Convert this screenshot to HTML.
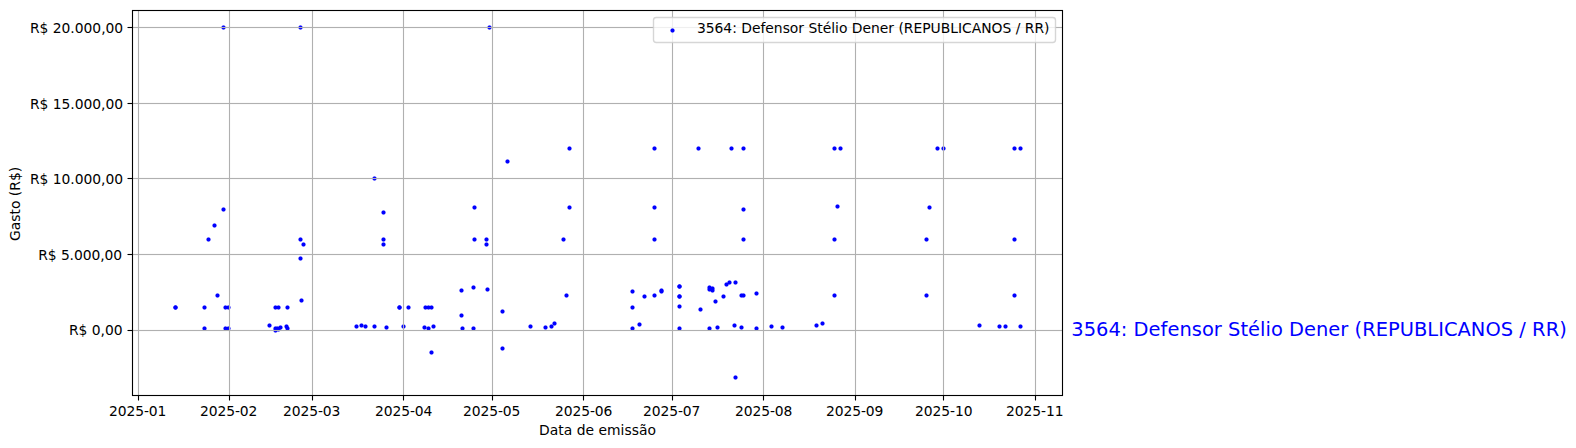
<!DOCTYPE html>
<html lang="pt-BR"><head><meta charset="utf-8"><title>Gastos</title>
<style>html,body{margin:0;padding:0;background:#fff}svg{display:block}</style></head>
<body>
<svg width="1576" height="448" viewBox="0 0 1576 448">
<rect width="1576" height="448" fill="#fff"/>
<g fill="#0000ff">
<rect x="276" y="328" width="5" height="3" fill-opacity=".306"/><rect x="277" y="327" width="3" height="5" fill-opacity=".306"/><rect x="276" y="329" width="5" height="1" fill-opacity=".366"/><rect x="278" y="327" width="1" height="5" fill-opacity=".366"/><rect x="277" y="328" width="3" height="3"/>
<rect x="221" y="26" width="5" height="3" fill-opacity=".306"/><rect x="222" y="25" width="3" height="5" fill-opacity=".306"/><rect x="221" y="27" width="5" height="1" fill-opacity=".366"/><rect x="223" y="25" width="1" height="5" fill-opacity=".366"/><rect x="222" y="26" width="3" height="3"/>
<rect x="298" y="26" width="5" height="3" fill-opacity=".306"/><rect x="299" y="25" width="3" height="5" fill-opacity=".306"/><rect x="298" y="27" width="5" height="1" fill-opacity=".366"/><rect x="300" y="25" width="1" height="5" fill-opacity=".366"/><rect x="299" y="26" width="3" height="3"/>
<rect x="487" y="26" width="5" height="3" fill-opacity=".306"/><rect x="488" y="25" width="3" height="5" fill-opacity=".306"/><rect x="487" y="27" width="5" height="1" fill-opacity=".366"/><rect x="489" y="25" width="1" height="5" fill-opacity=".366"/><rect x="488" y="26" width="3" height="3"/>
<rect x="567" y="147" width="5" height="3" fill-opacity=".306"/><rect x="568" y="146" width="3" height="5" fill-opacity=".306"/><rect x="567" y="148" width="5" height="1" fill-opacity=".366"/><rect x="569" y="146" width="1" height="5" fill-opacity=".366"/><rect x="568" y="147" width="3" height="3"/>
<rect x="652" y="147" width="5" height="3" fill-opacity=".306"/><rect x="653" y="146" width="3" height="5" fill-opacity=".306"/><rect x="652" y="148" width="5" height="1" fill-opacity=".366"/><rect x="654" y="146" width="1" height="5" fill-opacity=".366"/><rect x="653" y="147" width="3" height="3"/>
<rect x="696" y="147" width="5" height="3" fill-opacity=".306"/><rect x="697" y="146" width="3" height="5" fill-opacity=".306"/><rect x="696" y="148" width="5" height="1" fill-opacity=".366"/><rect x="698" y="146" width="1" height="5" fill-opacity=".366"/><rect x="697" y="147" width="3" height="3"/>
<rect x="729" y="147" width="5" height="3" fill-opacity=".306"/><rect x="730" y="146" width="3" height="5" fill-opacity=".306"/><rect x="729" y="148" width="5" height="1" fill-opacity=".366"/><rect x="731" y="146" width="1" height="5" fill-opacity=".366"/><rect x="730" y="147" width="3" height="3"/>
<rect x="741" y="147" width="5" height="3" fill-opacity=".306"/><rect x="742" y="146" width="3" height="5" fill-opacity=".306"/><rect x="741" y="148" width="5" height="1" fill-opacity=".366"/><rect x="743" y="146" width="1" height="5" fill-opacity=".366"/><rect x="742" y="147" width="3" height="3"/>
<rect x="832" y="147" width="5" height="3" fill-opacity=".306"/><rect x="833" y="146" width="3" height="5" fill-opacity=".306"/><rect x="832" y="148" width="5" height="1" fill-opacity=".366"/><rect x="834" y="146" width="1" height="5" fill-opacity=".366"/><rect x="833" y="147" width="3" height="3"/>
<rect x="838" y="147" width="5" height="3" fill-opacity=".306"/><rect x="839" y="146" width="3" height="5" fill-opacity=".306"/><rect x="838" y="148" width="5" height="1" fill-opacity=".366"/><rect x="840" y="146" width="1" height="5" fill-opacity=".366"/><rect x="839" y="147" width="3" height="3"/>
<rect x="935" y="147" width="5" height="3" fill-opacity=".306"/><rect x="936" y="146" width="3" height="5" fill-opacity=".306"/><rect x="935" y="148" width="5" height="1" fill-opacity=".366"/><rect x="937" y="146" width="1" height="5" fill-opacity=".366"/><rect x="936" y="147" width="3" height="3"/>
<rect x="941" y="147" width="5" height="3" fill-opacity=".306"/><rect x="942" y="146" width="3" height="5" fill-opacity=".306"/><rect x="941" y="148" width="5" height="1" fill-opacity=".366"/><rect x="943" y="146" width="1" height="5" fill-opacity=".366"/><rect x="942" y="147" width="3" height="3"/>
<rect x="1012" y="147" width="5" height="3" fill-opacity=".306"/><rect x="1013" y="146" width="3" height="5" fill-opacity=".306"/><rect x="1012" y="148" width="5" height="1" fill-opacity=".366"/><rect x="1014" y="146" width="1" height="5" fill-opacity=".366"/><rect x="1013" y="147" width="3" height="3"/>
<rect x="1018" y="147" width="5" height="3" fill-opacity=".306"/><rect x="1019" y="146" width="3" height="5" fill-opacity=".306"/><rect x="1018" y="148" width="5" height="1" fill-opacity=".366"/><rect x="1020" y="146" width="1" height="5" fill-opacity=".366"/><rect x="1019" y="147" width="3" height="3"/>
<rect x="505" y="160" width="5" height="3" fill-opacity=".306"/><rect x="506" y="159" width="3" height="5" fill-opacity=".306"/><rect x="505" y="161" width="5" height="1" fill-opacity=".366"/><rect x="507" y="159" width="1" height="5" fill-opacity=".366"/><rect x="506" y="160" width="3" height="3"/>
<rect x="372" y="177" width="5" height="3" fill-opacity=".306"/><rect x="373" y="176" width="3" height="5" fill-opacity=".306"/><rect x="372" y="178" width="5" height="1" fill-opacity=".366"/><rect x="374" y="176" width="1" height="5" fill-opacity=".366"/><rect x="373" y="177" width="3" height="3"/>
<rect x="472" y="206" width="5" height="3" fill-opacity=".306"/><rect x="473" y="205" width="3" height="5" fill-opacity=".306"/><rect x="472" y="207" width="5" height="1" fill-opacity=".366"/><rect x="474" y="205" width="1" height="5" fill-opacity=".366"/><rect x="473" y="206" width="3" height="3"/>
<rect x="567" y="206" width="5" height="3" fill-opacity=".306"/><rect x="568" y="205" width="3" height="5" fill-opacity=".306"/><rect x="567" y="207" width="5" height="1" fill-opacity=".366"/><rect x="569" y="205" width="1" height="5" fill-opacity=".366"/><rect x="568" y="206" width="3" height="3"/>
<rect x="652" y="206" width="5" height="3" fill-opacity=".306"/><rect x="653" y="205" width="3" height="5" fill-opacity=".306"/><rect x="652" y="207" width="5" height="1" fill-opacity=".366"/><rect x="654" y="205" width="1" height="5" fill-opacity=".366"/><rect x="653" y="206" width="3" height="3"/>
<rect x="927" y="206" width="5" height="3" fill-opacity=".306"/><rect x="928" y="205" width="3" height="5" fill-opacity=".306"/><rect x="927" y="207" width="5" height="1" fill-opacity=".366"/><rect x="929" y="205" width="1" height="5" fill-opacity=".366"/><rect x="928" y="206" width="3" height="3"/>
<rect x="221" y="208" width="5" height="3" fill-opacity=".306"/><rect x="222" y="207" width="3" height="5" fill-opacity=".306"/><rect x="221" y="209" width="5" height="1" fill-opacity=".366"/><rect x="223" y="207" width="1" height="5" fill-opacity=".366"/><rect x="222" y="208" width="3" height="3"/>
<rect x="741" y="208" width="5" height="3" fill-opacity=".306"/><rect x="742" y="207" width="3" height="5" fill-opacity=".306"/><rect x="741" y="209" width="5" height="1" fill-opacity=".366"/><rect x="743" y="207" width="1" height="5" fill-opacity=".366"/><rect x="742" y="208" width="3" height="3"/>
<rect x="835" y="205" width="5" height="3" fill-opacity=".306"/><rect x="836" y="204" width="3" height="5" fill-opacity=".306"/><rect x="835" y="206" width="5" height="1" fill-opacity=".366"/><rect x="837" y="204" width="1" height="5" fill-opacity=".366"/><rect x="836" y="205" width="3" height="3"/>
<rect x="381" y="211" width="5" height="3" fill-opacity=".306"/><rect x="382" y="210" width="3" height="5" fill-opacity=".306"/><rect x="381" y="212" width="5" height="1" fill-opacity=".366"/><rect x="383" y="210" width="1" height="5" fill-opacity=".366"/><rect x="382" y="211" width="3" height="3"/>
<rect x="212" y="224" width="5" height="3" fill-opacity=".306"/><rect x="213" y="223" width="3" height="5" fill-opacity=".306"/><rect x="212" y="225" width="5" height="1" fill-opacity=".366"/><rect x="214" y="223" width="1" height="5" fill-opacity=".366"/><rect x="213" y="224" width="3" height="3"/>
<rect x="206" y="238" width="5" height="3" fill-opacity=".306"/><rect x="207" y="237" width="3" height="5" fill-opacity=".306"/><rect x="206" y="239" width="5" height="1" fill-opacity=".366"/><rect x="208" y="237" width="1" height="5" fill-opacity=".366"/><rect x="207" y="238" width="3" height="3"/>
<rect x="298" y="238" width="5" height="3" fill-opacity=".306"/><rect x="299" y="237" width="3" height="5" fill-opacity=".306"/><rect x="298" y="239" width="5" height="1" fill-opacity=".366"/><rect x="300" y="237" width="1" height="5" fill-opacity=".366"/><rect x="299" y="238" width="3" height="3"/>
<rect x="381" y="238" width="5" height="3" fill-opacity=".306"/><rect x="382" y="237" width="3" height="5" fill-opacity=".306"/><rect x="381" y="239" width="5" height="1" fill-opacity=".366"/><rect x="383" y="237" width="1" height="5" fill-opacity=".366"/><rect x="382" y="238" width="3" height="3"/>
<rect x="472" y="238" width="5" height="3" fill-opacity=".306"/><rect x="473" y="237" width="3" height="5" fill-opacity=".306"/><rect x="472" y="239" width="5" height="1" fill-opacity=".366"/><rect x="474" y="237" width="1" height="5" fill-opacity=".366"/><rect x="473" y="238" width="3" height="3"/>
<rect x="484" y="238" width="5" height="3" fill-opacity=".306"/><rect x="485" y="237" width="3" height="5" fill-opacity=".306"/><rect x="484" y="239" width="5" height="1" fill-opacity=".366"/><rect x="486" y="237" width="1" height="5" fill-opacity=".366"/><rect x="485" y="238" width="3" height="3"/>
<rect x="561" y="238" width="5" height="3" fill-opacity=".306"/><rect x="562" y="237" width="3" height="5" fill-opacity=".306"/><rect x="561" y="239" width="5" height="1" fill-opacity=".366"/><rect x="563" y="237" width="1" height="5" fill-opacity=".366"/><rect x="562" y="238" width="3" height="3"/>
<rect x="652" y="238" width="5" height="3" fill-opacity=".306"/><rect x="653" y="237" width="3" height="5" fill-opacity=".306"/><rect x="652" y="239" width="5" height="1" fill-opacity=".366"/><rect x="654" y="237" width="1" height="5" fill-opacity=".366"/><rect x="653" y="238" width="3" height="3"/>
<rect x="741" y="238" width="5" height="3" fill-opacity=".306"/><rect x="742" y="237" width="3" height="5" fill-opacity=".306"/><rect x="741" y="239" width="5" height="1" fill-opacity=".366"/><rect x="743" y="237" width="1" height="5" fill-opacity=".366"/><rect x="742" y="238" width="3" height="3"/>
<rect x="832" y="238" width="5" height="3" fill-opacity=".306"/><rect x="833" y="237" width="3" height="5" fill-opacity=".306"/><rect x="832" y="239" width="5" height="1" fill-opacity=".366"/><rect x="834" y="237" width="1" height="5" fill-opacity=".366"/><rect x="833" y="238" width="3" height="3"/>
<rect x="924" y="238" width="5" height="3" fill-opacity=".306"/><rect x="925" y="237" width="3" height="5" fill-opacity=".306"/><rect x="924" y="239" width="5" height="1" fill-opacity=".366"/><rect x="926" y="237" width="1" height="5" fill-opacity=".366"/><rect x="925" y="238" width="3" height="3"/>
<rect x="1012" y="238" width="5" height="3" fill-opacity=".306"/><rect x="1013" y="237" width="3" height="5" fill-opacity=".306"/><rect x="1012" y="239" width="5" height="1" fill-opacity=".366"/><rect x="1014" y="237" width="1" height="5" fill-opacity=".366"/><rect x="1013" y="238" width="3" height="3"/>
<rect x="301" y="243" width="5" height="3" fill-opacity=".306"/><rect x="302" y="242" width="3" height="5" fill-opacity=".306"/><rect x="301" y="244" width="5" height="1" fill-opacity=".366"/><rect x="303" y="242" width="1" height="5" fill-opacity=".366"/><rect x="302" y="243" width="3" height="3"/>
<rect x="381" y="243" width="5" height="3" fill-opacity=".306"/><rect x="382" y="242" width="3" height="5" fill-opacity=".306"/><rect x="381" y="244" width="5" height="1" fill-opacity=".366"/><rect x="383" y="242" width="1" height="5" fill-opacity=".366"/><rect x="382" y="243" width="3" height="3"/>
<rect x="484" y="243" width="5" height="3" fill-opacity=".306"/><rect x="485" y="242" width="3" height="5" fill-opacity=".306"/><rect x="484" y="244" width="5" height="1" fill-opacity=".366"/><rect x="486" y="242" width="1" height="5" fill-opacity=".366"/><rect x="485" y="243" width="3" height="3"/>
<rect x="298" y="257" width="5" height="3" fill-opacity=".306"/><rect x="299" y="256" width="3" height="5" fill-opacity=".306"/><rect x="298" y="258" width="5" height="1" fill-opacity=".366"/><rect x="300" y="256" width="1" height="5" fill-opacity=".366"/><rect x="299" y="257" width="3" height="3"/>
<rect x="173" y="306" width="5" height="3" fill-opacity=".306"/><rect x="174" y="305" width="3" height="5" fill-opacity=".306"/><rect x="173" y="307" width="5" height="1" fill-opacity=".366"/><rect x="175" y="305" width="1" height="5" fill-opacity=".366"/><rect x="174" y="306" width="3" height="3"/>
<rect x="173" y="306" width="5" height="3" fill-opacity=".306"/><rect x="174" y="305" width="3" height="5" fill-opacity=".306"/><rect x="173" y="307" width="5" height="1" fill-opacity=".366"/><rect x="175" y="305" width="1" height="5" fill-opacity=".366"/><rect x="174" y="306" width="3" height="3"/>
<rect x="202" y="306" width="5" height="3" fill-opacity=".306"/><rect x="203" y="305" width="3" height="5" fill-opacity=".306"/><rect x="202" y="307" width="5" height="1" fill-opacity=".366"/><rect x="204" y="305" width="1" height="5" fill-opacity=".366"/><rect x="203" y="306" width="3" height="3"/>
<rect x="223" y="306" width="5" height="3" fill-opacity=".306"/><rect x="224" y="305" width="3" height="5" fill-opacity=".306"/><rect x="223" y="307" width="5" height="1" fill-opacity=".366"/><rect x="225" y="305" width="1" height="5" fill-opacity=".366"/><rect x="224" y="306" width="3" height="3"/>
<rect x="226" y="306" width="5" height="3" fill-opacity=".306"/><rect x="227" y="305" width="3" height="5" fill-opacity=".306"/><rect x="226" y="307" width="5" height="1" fill-opacity=".366"/><rect x="228" y="305" width="1" height="5" fill-opacity=".366"/><rect x="227" y="306" width="3" height="3"/>
<rect x="273" y="306" width="5" height="3" fill-opacity=".306"/><rect x="274" y="305" width="3" height="5" fill-opacity=".306"/><rect x="273" y="307" width="5" height="1" fill-opacity=".366"/><rect x="275" y="305" width="1" height="5" fill-opacity=".366"/><rect x="274" y="306" width="3" height="3"/>
<rect x="276" y="306" width="5" height="3" fill-opacity=".306"/><rect x="277" y="305" width="3" height="5" fill-opacity=".306"/><rect x="276" y="307" width="5" height="1" fill-opacity=".366"/><rect x="278" y="305" width="1" height="5" fill-opacity=".366"/><rect x="277" y="306" width="3" height="3"/>
<rect x="285" y="306" width="5" height="3" fill-opacity=".306"/><rect x="286" y="305" width="3" height="5" fill-opacity=".306"/><rect x="285" y="307" width="5" height="1" fill-opacity=".366"/><rect x="287" y="305" width="1" height="5" fill-opacity=".366"/><rect x="286" y="306" width="3" height="3"/>
<rect x="397" y="306" width="5" height="3" fill-opacity=".306"/><rect x="398" y="305" width="3" height="5" fill-opacity=".306"/><rect x="397" y="307" width="5" height="1" fill-opacity=".366"/><rect x="399" y="305" width="1" height="5" fill-opacity=".366"/><rect x="398" y="306" width="3" height="3"/>
<rect x="397" y="306" width="5" height="3" fill-opacity=".306"/><rect x="398" y="305" width="3" height="5" fill-opacity=".306"/><rect x="397" y="307" width="5" height="1" fill-opacity=".366"/><rect x="399" y="305" width="1" height="5" fill-opacity=".366"/><rect x="398" y="306" width="3" height="3"/>
<rect x="406" y="306" width="5" height="3" fill-opacity=".306"/><rect x="407" y="305" width="3" height="5" fill-opacity=".306"/><rect x="406" y="307" width="5" height="1" fill-opacity=".366"/><rect x="408" y="305" width="1" height="5" fill-opacity=".366"/><rect x="407" y="306" width="3" height="3"/>
<rect x="423" y="306" width="5" height="3" fill-opacity=".306"/><rect x="424" y="305" width="3" height="5" fill-opacity=".306"/><rect x="423" y="307" width="5" height="1" fill-opacity=".366"/><rect x="425" y="305" width="1" height="5" fill-opacity=".366"/><rect x="424" y="306" width="3" height="3"/>
<rect x="426" y="306" width="5" height="3" fill-opacity=".306"/><rect x="427" y="305" width="3" height="5" fill-opacity=".306"/><rect x="426" y="307" width="5" height="1" fill-opacity=".366"/><rect x="428" y="305" width="1" height="5" fill-opacity=".366"/><rect x="427" y="306" width="3" height="3"/>
<rect x="429" y="306" width="5" height="3" fill-opacity=".306"/><rect x="430" y="305" width="3" height="5" fill-opacity=".306"/><rect x="429" y="307" width="5" height="1" fill-opacity=".366"/><rect x="431" y="305" width="1" height="5" fill-opacity=".366"/><rect x="430" y="306" width="3" height="3"/>
<rect x="630" y="306" width="5" height="3" fill-opacity=".306"/><rect x="631" y="305" width="3" height="5" fill-opacity=".306"/><rect x="630" y="307" width="5" height="1" fill-opacity=".366"/><rect x="632" y="305" width="1" height="5" fill-opacity=".366"/><rect x="631" y="306" width="3" height="3"/>
<rect x="215" y="294" width="5" height="3" fill-opacity=".306"/><rect x="216" y="293" width="3" height="5" fill-opacity=".306"/><rect x="215" y="295" width="5" height="1" fill-opacity=".366"/><rect x="217" y="293" width="1" height="5" fill-opacity=".366"/><rect x="216" y="294" width="3" height="3"/>
<rect x="299" y="299" width="5" height="3" fill-opacity=".306"/><rect x="300" y="298" width="3" height="5" fill-opacity=".306"/><rect x="299" y="300" width="5" height="1" fill-opacity=".366"/><rect x="301" y="298" width="1" height="5" fill-opacity=".366"/><rect x="300" y="299" width="3" height="3"/>
<rect x="202" y="327" width="5" height="3" fill-opacity=".306"/><rect x="203" y="326" width="3" height="5" fill-opacity=".306"/><rect x="202" y="328" width="5" height="1" fill-opacity=".366"/><rect x="204" y="326" width="1" height="5" fill-opacity=".366"/><rect x="203" y="327" width="3" height="3"/>
<rect x="223" y="327" width="5" height="3" fill-opacity=".306"/><rect x="224" y="326" width="3" height="5" fill-opacity=".306"/><rect x="223" y="328" width="5" height="1" fill-opacity=".366"/><rect x="225" y="326" width="1" height="5" fill-opacity=".366"/><rect x="224" y="327" width="3" height="3"/>
<rect x="226" y="327" width="5" height="3" fill-opacity=".306"/><rect x="227" y="326" width="3" height="5" fill-opacity=".306"/><rect x="226" y="328" width="5" height="1" fill-opacity=".366"/><rect x="228" y="326" width="1" height="5" fill-opacity=".366"/><rect x="227" y="327" width="3" height="3"/>
<rect x="267" y="324" width="5" height="3" fill-opacity=".306"/><rect x="268" y="323" width="3" height="5" fill-opacity=".306"/><rect x="267" y="325" width="5" height="1" fill-opacity=".366"/><rect x="269" y="323" width="1" height="5" fill-opacity=".366"/><rect x="268" y="324" width="3" height="3"/>
<rect x="273" y="329" width="5" height="3" fill-opacity=".306"/><rect x="274" y="328" width="3" height="5" fill-opacity=".306"/><rect x="273" y="330" width="5" height="1" fill-opacity=".366"/><rect x="275" y="328" width="1" height="5" fill-opacity=".366"/><rect x="274" y="329" width="3" height="3"/>
<rect x="273" y="327" width="5" height="3" fill-opacity=".306"/><rect x="274" y="326" width="3" height="5" fill-opacity=".306"/><rect x="273" y="328" width="5" height="1" fill-opacity=".366"/><rect x="275" y="326" width="1" height="5" fill-opacity=".366"/><rect x="274" y="327" width="3" height="3"/>
<rect x="275" y="327" width="5" height="3" fill-opacity=".306"/><rect x="276" y="326" width="3" height="5" fill-opacity=".306"/><rect x="275" y="328" width="5" height="1" fill-opacity=".366"/><rect x="277" y="326" width="1" height="5" fill-opacity=".366"/><rect x="276" y="327" width="3" height="3"/>
<rect x="278" y="326" width="5" height="3" fill-opacity=".306"/><rect x="279" y="325" width="3" height="5" fill-opacity=".306"/><rect x="278" y="327" width="5" height="1" fill-opacity=".366"/><rect x="280" y="325" width="1" height="5" fill-opacity=".366"/><rect x="279" y="326" width="3" height="3"/>
<rect x="284" y="325" width="5" height="3" fill-opacity=".306"/><rect x="285" y="324" width="3" height="5" fill-opacity=".306"/><rect x="284" y="326" width="5" height="1" fill-opacity=".366"/><rect x="286" y="324" width="1" height="5" fill-opacity=".366"/><rect x="285" y="325" width="3" height="3"/>
<rect x="285" y="327" width="5" height="3" fill-opacity=".306"/><rect x="286" y="326" width="3" height="5" fill-opacity=".306"/><rect x="285" y="328" width="5" height="1" fill-opacity=".366"/><rect x="287" y="326" width="1" height="5" fill-opacity=".366"/><rect x="286" y="327" width="3" height="3"/>
<rect x="354" y="325" width="5" height="3" fill-opacity=".306"/><rect x="355" y="324" width="3" height="5" fill-opacity=".306"/><rect x="354" y="326" width="5" height="1" fill-opacity=".366"/><rect x="356" y="324" width="1" height="5" fill-opacity=".366"/><rect x="355" y="325" width="3" height="3"/>
<rect x="359" y="324" width="5" height="3" fill-opacity=".306"/><rect x="360" y="323" width="3" height="5" fill-opacity=".306"/><rect x="359" y="325" width="5" height="1" fill-opacity=".366"/><rect x="361" y="323" width="1" height="5" fill-opacity=".366"/><rect x="360" y="324" width="3" height="3"/>
<rect x="363" y="325" width="5" height="3" fill-opacity=".306"/><rect x="364" y="324" width="3" height="5" fill-opacity=".306"/><rect x="363" y="326" width="5" height="1" fill-opacity=".366"/><rect x="365" y="324" width="1" height="5" fill-opacity=".366"/><rect x="364" y="325" width="3" height="3"/>
<rect x="372" y="325" width="5" height="3" fill-opacity=".306"/><rect x="373" y="324" width="3" height="5" fill-opacity=".306"/><rect x="372" y="326" width="5" height="1" fill-opacity=".366"/><rect x="374" y="324" width="1" height="5" fill-opacity=".366"/><rect x="373" y="325" width="3" height="3"/>
<rect x="384" y="326" width="5" height="3" fill-opacity=".306"/><rect x="385" y="325" width="3" height="5" fill-opacity=".306"/><rect x="384" y="327" width="5" height="1" fill-opacity=".366"/><rect x="386" y="325" width="1" height="5" fill-opacity=".366"/><rect x="385" y="326" width="3" height="3"/>
<rect x="401" y="325" width="5" height="3" fill-opacity=".306"/><rect x="402" y="324" width="3" height="5" fill-opacity=".306"/><rect x="401" y="326" width="5" height="1" fill-opacity=".366"/><rect x="403" y="324" width="1" height="5" fill-opacity=".366"/><rect x="402" y="325" width="3" height="3"/>
<rect x="422" y="326" width="5" height="3" fill-opacity=".306"/><rect x="423" y="325" width="3" height="5" fill-opacity=".306"/><rect x="422" y="327" width="5" height="1" fill-opacity=".366"/><rect x="424" y="325" width="1" height="5" fill-opacity=".366"/><rect x="423" y="326" width="3" height="3"/>
<rect x="426" y="327" width="5" height="3" fill-opacity=".306"/><rect x="427" y="326" width="3" height="5" fill-opacity=".306"/><rect x="426" y="328" width="5" height="1" fill-opacity=".366"/><rect x="428" y="326" width="1" height="5" fill-opacity=".366"/><rect x="427" y="327" width="3" height="3"/>
<rect x="431" y="325" width="5" height="3" fill-opacity=".306"/><rect x="432" y="324" width="3" height="5" fill-opacity=".306"/><rect x="431" y="326" width="5" height="1" fill-opacity=".366"/><rect x="433" y="324" width="1" height="5" fill-opacity=".366"/><rect x="432" y="325" width="3" height="3"/>
<rect x="459" y="289" width="5" height="3" fill-opacity=".306"/><rect x="460" y="288" width="3" height="5" fill-opacity=".306"/><rect x="459" y="290" width="5" height="1" fill-opacity=".366"/><rect x="461" y="288" width="1" height="5" fill-opacity=".366"/><rect x="460" y="289" width="3" height="3"/>
<rect x="471" y="286" width="5" height="3" fill-opacity=".306"/><rect x="472" y="285" width="3" height="5" fill-opacity=".306"/><rect x="471" y="287" width="5" height="1" fill-opacity=".366"/><rect x="473" y="285" width="1" height="5" fill-opacity=".366"/><rect x="472" y="286" width="3" height="3"/>
<rect x="485" y="288" width="5" height="3" fill-opacity=".306"/><rect x="486" y="287" width="3" height="5" fill-opacity=".306"/><rect x="485" y="289" width="5" height="1" fill-opacity=".366"/><rect x="487" y="287" width="1" height="5" fill-opacity=".366"/><rect x="486" y="288" width="3" height="3"/>
<rect x="459" y="314" width="5" height="3" fill-opacity=".306"/><rect x="460" y="313" width="3" height="5" fill-opacity=".306"/><rect x="459" y="315" width="5" height="1" fill-opacity=".366"/><rect x="461" y="313" width="1" height="5" fill-opacity=".366"/><rect x="460" y="314" width="3" height="3"/>
<rect x="460" y="327" width="5" height="3" fill-opacity=".306"/><rect x="461" y="326" width="3" height="5" fill-opacity=".306"/><rect x="460" y="328" width="5" height="1" fill-opacity=".366"/><rect x="462" y="326" width="1" height="5" fill-opacity=".366"/><rect x="461" y="327" width="3" height="3"/>
<rect x="471" y="327" width="5" height="3" fill-opacity=".306"/><rect x="472" y="326" width="3" height="5" fill-opacity=".306"/><rect x="471" y="328" width="5" height="1" fill-opacity=".366"/><rect x="473" y="326" width="1" height="5" fill-opacity=".366"/><rect x="472" y="327" width="3" height="3"/>
<rect x="500" y="310" width="5" height="3" fill-opacity=".306"/><rect x="501" y="309" width="3" height="5" fill-opacity=".306"/><rect x="500" y="311" width="5" height="1" fill-opacity=".366"/><rect x="502" y="309" width="1" height="5" fill-opacity=".366"/><rect x="501" y="310" width="3" height="3"/>
<rect x="528" y="325" width="5" height="3" fill-opacity=".306"/><rect x="529" y="324" width="3" height="5" fill-opacity=".306"/><rect x="528" y="326" width="5" height="1" fill-opacity=".366"/><rect x="530" y="324" width="1" height="5" fill-opacity=".366"/><rect x="529" y="325" width="3" height="3"/>
<rect x="543" y="326" width="5" height="3" fill-opacity=".306"/><rect x="544" y="325" width="3" height="5" fill-opacity=".306"/><rect x="543" y="327" width="5" height="1" fill-opacity=".366"/><rect x="545" y="325" width="1" height="5" fill-opacity=".366"/><rect x="544" y="326" width="3" height="3"/>
<rect x="549" y="325" width="5" height="3" fill-opacity=".306"/><rect x="550" y="324" width="3" height="5" fill-opacity=".306"/><rect x="549" y="326" width="5" height="1" fill-opacity=".366"/><rect x="551" y="324" width="1" height="5" fill-opacity=".366"/><rect x="550" y="325" width="3" height="3"/>
<rect x="552" y="322" width="5" height="3" fill-opacity=".306"/><rect x="553" y="321" width="3" height="5" fill-opacity=".306"/><rect x="552" y="323" width="5" height="1" fill-opacity=".366"/><rect x="554" y="321" width="1" height="5" fill-opacity=".366"/><rect x="553" y="322" width="3" height="3"/>
<rect x="564" y="294" width="5" height="3" fill-opacity=".306"/><rect x="565" y="293" width="3" height="5" fill-opacity=".306"/><rect x="564" y="295" width="5" height="1" fill-opacity=".366"/><rect x="566" y="293" width="1" height="5" fill-opacity=".366"/><rect x="565" y="294" width="3" height="3"/>
<rect x="630" y="290" width="5" height="3" fill-opacity=".306"/><rect x="631" y="289" width="3" height="5" fill-opacity=".306"/><rect x="630" y="291" width="5" height="1" fill-opacity=".366"/><rect x="632" y="289" width="1" height="5" fill-opacity=".366"/><rect x="631" y="290" width="3" height="3"/>
<rect x="630" y="327" width="5" height="3" fill-opacity=".306"/><rect x="631" y="326" width="3" height="5" fill-opacity=".306"/><rect x="630" y="328" width="5" height="1" fill-opacity=".366"/><rect x="632" y="326" width="1" height="5" fill-opacity=".366"/><rect x="631" y="327" width="3" height="3"/>
<rect x="637" y="323" width="5" height="3" fill-opacity=".306"/><rect x="638" y="322" width="3" height="5" fill-opacity=".306"/><rect x="637" y="324" width="5" height="1" fill-opacity=".366"/><rect x="639" y="322" width="1" height="5" fill-opacity=".366"/><rect x="638" y="323" width="3" height="3"/>
<rect x="642" y="295" width="5" height="3" fill-opacity=".306"/><rect x="643" y="294" width="3" height="5" fill-opacity=".306"/><rect x="642" y="296" width="5" height="1" fill-opacity=".366"/><rect x="644" y="294" width="1" height="5" fill-opacity=".366"/><rect x="643" y="295" width="3" height="3"/>
<rect x="652" y="294" width="5" height="3" fill-opacity=".306"/><rect x="653" y="293" width="3" height="5" fill-opacity=".306"/><rect x="652" y="295" width="5" height="1" fill-opacity=".366"/><rect x="654" y="293" width="1" height="5" fill-opacity=".366"/><rect x="653" y="294" width="3" height="3"/>
<rect x="659" y="289" width="5" height="3" fill-opacity=".306"/><rect x="660" y="288" width="3" height="5" fill-opacity=".306"/><rect x="659" y="290" width="5" height="1" fill-opacity=".366"/><rect x="661" y="288" width="1" height="5" fill-opacity=".366"/><rect x="660" y="289" width="3" height="3"/>
<rect x="659" y="290" width="5" height="3" fill-opacity=".306"/><rect x="660" y="289" width="3" height="5" fill-opacity=".306"/><rect x="659" y="291" width="5" height="1" fill-opacity=".366"/><rect x="661" y="289" width="1" height="5" fill-opacity=".366"/><rect x="660" y="290" width="3" height="3"/>
<rect x="677" y="285" width="5" height="3" fill-opacity=".306"/><rect x="678" y="284" width="3" height="5" fill-opacity=".306"/><rect x="677" y="286" width="5" height="1" fill-opacity=".366"/><rect x="679" y="284" width="1" height="5" fill-opacity=".366"/><rect x="678" y="285" width="3" height="3"/>
<rect x="677" y="285" width="5" height="3" fill-opacity=".306"/><rect x="678" y="284" width="3" height="5" fill-opacity=".306"/><rect x="677" y="286" width="5" height="1" fill-opacity=".366"/><rect x="679" y="284" width="1" height="5" fill-opacity=".366"/><rect x="678" y="285" width="3" height="3"/>
<rect x="677" y="295" width="5" height="3" fill-opacity=".306"/><rect x="678" y="294" width="3" height="5" fill-opacity=".306"/><rect x="677" y="296" width="5" height="1" fill-opacity=".366"/><rect x="679" y="294" width="1" height="5" fill-opacity=".366"/><rect x="678" y="295" width="3" height="3"/>
<rect x="677" y="295" width="5" height="3" fill-opacity=".306"/><rect x="678" y="294" width="3" height="5" fill-opacity=".306"/><rect x="677" y="296" width="5" height="1" fill-opacity=".366"/><rect x="679" y="294" width="1" height="5" fill-opacity=".366"/><rect x="678" y="295" width="3" height="3"/>
<rect x="677" y="305" width="5" height="3" fill-opacity=".306"/><rect x="678" y="304" width="3" height="5" fill-opacity=".306"/><rect x="677" y="306" width="5" height="1" fill-opacity=".366"/><rect x="679" y="304" width="1" height="5" fill-opacity=".366"/><rect x="678" y="305" width="3" height="3"/>
<rect x="677" y="327" width="5" height="3" fill-opacity=".306"/><rect x="678" y="326" width="3" height="5" fill-opacity=".306"/><rect x="677" y="328" width="5" height="1" fill-opacity=".366"/><rect x="679" y="326" width="1" height="5" fill-opacity=".366"/><rect x="678" y="327" width="3" height="3"/>
<rect x="698" y="308" width="5" height="3" fill-opacity=".306"/><rect x="699" y="307" width="3" height="5" fill-opacity=".306"/><rect x="698" y="309" width="5" height="1" fill-opacity=".366"/><rect x="700" y="307" width="1" height="5" fill-opacity=".366"/><rect x="699" y="308" width="3" height="3"/>
<rect x="707" y="286" width="5" height="3" fill-opacity=".306"/><rect x="708" y="285" width="3" height="5" fill-opacity=".306"/><rect x="707" y="287" width="5" height="1" fill-opacity=".366"/><rect x="709" y="285" width="1" height="5" fill-opacity=".366"/><rect x="708" y="286" width="3" height="3"/>
<rect x="707" y="288" width="5" height="3" fill-opacity=".306"/><rect x="708" y="287" width="3" height="5" fill-opacity=".306"/><rect x="707" y="289" width="5" height="1" fill-opacity=".366"/><rect x="709" y="287" width="1" height="5" fill-opacity=".366"/><rect x="708" y="288" width="3" height="3"/>
<rect x="710" y="287" width="5" height="3" fill-opacity=".306"/><rect x="711" y="286" width="3" height="5" fill-opacity=".306"/><rect x="710" y="288" width="5" height="1" fill-opacity=".366"/><rect x="712" y="286" width="1" height="5" fill-opacity=".366"/><rect x="711" y="287" width="3" height="3"/>
<rect x="710" y="289" width="5" height="3" fill-opacity=".306"/><rect x="711" y="288" width="3" height="5" fill-opacity=".306"/><rect x="710" y="290" width="5" height="1" fill-opacity=".366"/><rect x="712" y="288" width="1" height="5" fill-opacity=".366"/><rect x="711" y="289" width="3" height="3"/>
<rect x="707" y="327" width="5" height="3" fill-opacity=".306"/><rect x="708" y="326" width="3" height="5" fill-opacity=".306"/><rect x="707" y="328" width="5" height="1" fill-opacity=".366"/><rect x="709" y="326" width="1" height="5" fill-opacity=".366"/><rect x="708" y="327" width="3" height="3"/>
<rect x="713" y="300" width="5" height="3" fill-opacity=".306"/><rect x="714" y="299" width="3" height="5" fill-opacity=".306"/><rect x="713" y="301" width="5" height="1" fill-opacity=".366"/><rect x="715" y="299" width="1" height="5" fill-opacity=".366"/><rect x="714" y="300" width="3" height="3"/>
<rect x="715" y="326" width="5" height="3" fill-opacity=".306"/><rect x="716" y="325" width="3" height="5" fill-opacity=".306"/><rect x="715" y="327" width="5" height="1" fill-opacity=".366"/><rect x="717" y="325" width="1" height="5" fill-opacity=".366"/><rect x="716" y="326" width="3" height="3"/>
<rect x="721" y="295" width="5" height="3" fill-opacity=".306"/><rect x="722" y="294" width="3" height="5" fill-opacity=".306"/><rect x="721" y="296" width="5" height="1" fill-opacity=".366"/><rect x="723" y="294" width="1" height="5" fill-opacity=".366"/><rect x="722" y="295" width="3" height="3"/>
<rect x="724" y="283" width="5" height="3" fill-opacity=".306"/><rect x="725" y="282" width="3" height="5" fill-opacity=".306"/><rect x="724" y="284" width="5" height="1" fill-opacity=".366"/><rect x="726" y="282" width="1" height="5" fill-opacity=".366"/><rect x="725" y="283" width="3" height="3"/>
<rect x="727" y="281" width="5" height="3" fill-opacity=".306"/><rect x="728" y="280" width="3" height="5" fill-opacity=".306"/><rect x="727" y="282" width="5" height="1" fill-opacity=".366"/><rect x="729" y="280" width="1" height="5" fill-opacity=".366"/><rect x="728" y="281" width="3" height="3"/>
<rect x="733" y="281" width="5" height="3" fill-opacity=".306"/><rect x="734" y="280" width="3" height="5" fill-opacity=".306"/><rect x="733" y="282" width="5" height="1" fill-opacity=".366"/><rect x="735" y="280" width="1" height="5" fill-opacity=".366"/><rect x="734" y="281" width="3" height="3"/>
<rect x="739" y="294" width="5" height="3" fill-opacity=".306"/><rect x="740" y="293" width="3" height="5" fill-opacity=".306"/><rect x="739" y="295" width="5" height="1" fill-opacity=".366"/><rect x="741" y="293" width="1" height="5" fill-opacity=".366"/><rect x="740" y="294" width="3" height="3"/>
<rect x="741" y="294" width="5" height="3" fill-opacity=".306"/><rect x="742" y="293" width="3" height="5" fill-opacity=".306"/><rect x="741" y="295" width="5" height="1" fill-opacity=".366"/><rect x="743" y="293" width="1" height="5" fill-opacity=".366"/><rect x="742" y="294" width="3" height="3"/>
<rect x="754" y="292" width="5" height="3" fill-opacity=".306"/><rect x="755" y="291" width="3" height="5" fill-opacity=".306"/><rect x="754" y="293" width="5" height="1" fill-opacity=".366"/><rect x="756" y="291" width="1" height="5" fill-opacity=".366"/><rect x="755" y="292" width="3" height="3"/>
<rect x="832" y="294" width="5" height="3" fill-opacity=".306"/><rect x="833" y="293" width="3" height="5" fill-opacity=".306"/><rect x="832" y="295" width="5" height="1" fill-opacity=".366"/><rect x="834" y="293" width="1" height="5" fill-opacity=".366"/><rect x="833" y="294" width="3" height="3"/>
<rect x="732" y="324" width="5" height="3" fill-opacity=".306"/><rect x="733" y="323" width="3" height="5" fill-opacity=".306"/><rect x="732" y="325" width="5" height="1" fill-opacity=".366"/><rect x="734" y="323" width="1" height="5" fill-opacity=".366"/><rect x="733" y="324" width="3" height="3"/>
<rect x="739" y="326" width="5" height="3" fill-opacity=".306"/><rect x="740" y="325" width="3" height="5" fill-opacity=".306"/><rect x="739" y="327" width="5" height="1" fill-opacity=".366"/><rect x="741" y="325" width="1" height="5" fill-opacity=".366"/><rect x="740" y="326" width="3" height="3"/>
<rect x="754" y="327" width="5" height="3" fill-opacity=".306"/><rect x="755" y="326" width="3" height="5" fill-opacity=".306"/><rect x="754" y="328" width="5" height="1" fill-opacity=".366"/><rect x="756" y="326" width="1" height="5" fill-opacity=".366"/><rect x="755" y="327" width="3" height="3"/>
<rect x="769" y="325" width="5" height="3" fill-opacity=".306"/><rect x="770" y="324" width="3" height="5" fill-opacity=".306"/><rect x="769" y="326" width="5" height="1" fill-opacity=".366"/><rect x="771" y="324" width="1" height="5" fill-opacity=".366"/><rect x="770" y="325" width="3" height="3"/>
<rect x="780" y="326" width="5" height="3" fill-opacity=".306"/><rect x="781" y="325" width="3" height="5" fill-opacity=".306"/><rect x="780" y="327" width="5" height="1" fill-opacity=".366"/><rect x="782" y="325" width="1" height="5" fill-opacity=".366"/><rect x="781" y="326" width="3" height="3"/>
<rect x="814" y="324" width="5" height="3" fill-opacity=".306"/><rect x="815" y="323" width="3" height="5" fill-opacity=".306"/><rect x="814" y="325" width="5" height="1" fill-opacity=".366"/><rect x="816" y="323" width="1" height="5" fill-opacity=".366"/><rect x="815" y="324" width="3" height="3"/>
<rect x="820" y="322" width="5" height="3" fill-opacity=".306"/><rect x="821" y="321" width="3" height="5" fill-opacity=".306"/><rect x="820" y="323" width="5" height="1" fill-opacity=".366"/><rect x="822" y="321" width="1" height="5" fill-opacity=".366"/><rect x="821" y="322" width="3" height="3"/>
<rect x="924" y="294" width="5" height="3" fill-opacity=".306"/><rect x="925" y="293" width="3" height="5" fill-opacity=".306"/><rect x="924" y="295" width="5" height="1" fill-opacity=".366"/><rect x="926" y="293" width="1" height="5" fill-opacity=".366"/><rect x="925" y="294" width="3" height="3"/>
<rect x="1012" y="294" width="5" height="3" fill-opacity=".306"/><rect x="1013" y="293" width="3" height="5" fill-opacity=".306"/><rect x="1012" y="295" width="5" height="1" fill-opacity=".366"/><rect x="1014" y="293" width="1" height="5" fill-opacity=".366"/><rect x="1013" y="294" width="3" height="3"/>
<rect x="977" y="324" width="5" height="3" fill-opacity=".306"/><rect x="978" y="323" width="3" height="5" fill-opacity=".306"/><rect x="977" y="325" width="5" height="1" fill-opacity=".366"/><rect x="979" y="323" width="1" height="5" fill-opacity=".366"/><rect x="978" y="324" width="3" height="3"/>
<rect x="997" y="325" width="5" height="3" fill-opacity=".306"/><rect x="998" y="324" width="3" height="5" fill-opacity=".306"/><rect x="997" y="326" width="5" height="1" fill-opacity=".366"/><rect x="999" y="324" width="1" height="5" fill-opacity=".366"/><rect x="998" y="325" width="3" height="3"/>
<rect x="1003" y="325" width="5" height="3" fill-opacity=".306"/><rect x="1004" y="324" width="3" height="5" fill-opacity=".306"/><rect x="1003" y="326" width="5" height="1" fill-opacity=".366"/><rect x="1005" y="324" width="1" height="5" fill-opacity=".366"/><rect x="1004" y="325" width="3" height="3"/>
<rect x="1018" y="325" width="5" height="3" fill-opacity=".306"/><rect x="1019" y="324" width="3" height="5" fill-opacity=".306"/><rect x="1018" y="326" width="5" height="1" fill-opacity=".366"/><rect x="1020" y="324" width="1" height="5" fill-opacity=".366"/><rect x="1019" y="325" width="3" height="3"/>
<rect x="429" y="351" width="5" height="3" fill-opacity=".306"/><rect x="430" y="350" width="3" height="5" fill-opacity=".306"/><rect x="429" y="352" width="5" height="1" fill-opacity=".366"/><rect x="431" y="350" width="1" height="5" fill-opacity=".366"/><rect x="430" y="351" width="3" height="3"/>
<rect x="500" y="347" width="5" height="3" fill-opacity=".306"/><rect x="501" y="346" width="3" height="5" fill-opacity=".306"/><rect x="500" y="348" width="5" height="1" fill-opacity=".366"/><rect x="502" y="346" width="1" height="5" fill-opacity=".366"/><rect x="501" y="347" width="3" height="3"/>
<rect x="733" y="376" width="5" height="3" fill-opacity=".306"/><rect x="734" y="375" width="3" height="5" fill-opacity=".306"/><rect x="733" y="377" width="5" height="1" fill-opacity=".366"/><rect x="735" y="375" width="1" height="5" fill-opacity=".366"/><rect x="734" y="376" width="3" height="3"/>
</g>
<g stroke="#b0b0b0" stroke-width="1.111" fill="none">
<line x1="138.5" y1="10.5" x2="138.5" y2="395.5"/>
<line x1="229.5" y1="10.5" x2="229.5" y2="395.5"/>
<line x1="312.5" y1="10.5" x2="312.5" y2="395.5"/>
<line x1="403.5" y1="10.5" x2="403.5" y2="395.5"/>
<line x1="492.5" y1="10.5" x2="492.5" y2="395.5"/>
<line x1="583.5" y1="10.5" x2="583.5" y2="395.5"/>
<line x1="672.5" y1="10.5" x2="672.5" y2="395.5"/>
<line x1="763.5" y1="10.5" x2="763.5" y2="395.5"/>
<line x1="855.5" y1="10.5" x2="855.5" y2="395.5"/>
<line x1="943.5" y1="10.5" x2="943.5" y2="395.5"/>
<line x1="1035.5" y1="10.5" x2="1035.5" y2="395.5"/>
<rect x="132.5" y="329.0" width="930.0" height="3" fill="#b0b0b0" fill-opacity=".063" stroke="none"/><rect x="132.5" y="330.0" width="930.0" height="1" fill="#b0b0b0" stroke="none"/>
<rect x="132.5" y="253.0" width="930.0" height="3" fill="#b0b0b0" fill-opacity=".063" stroke="none"/><rect x="132.5" y="254.0" width="930.0" height="1" fill="#b0b0b0" stroke="none"/>
<rect x="132.5" y="177.0" width="930.0" height="3" fill="#b0b0b0" fill-opacity=".063" stroke="none"/><rect x="132.5" y="178.0" width="930.0" height="1" fill="#b0b0b0" stroke="none"/>
<rect x="132.5" y="102.0" width="930.0" height="3" fill="#b0b0b0" fill-opacity=".063" stroke="none"/><rect x="132.5" y="103.0" width="930.0" height="1" fill="#b0b0b0" stroke="none"/>
<rect x="132.5" y="26.0" width="930.0" height="3" fill="#b0b0b0" fill-opacity=".063" stroke="none"/><rect x="132.5" y="27.0" width="930.0" height="1" fill="#b0b0b0" stroke="none"/>
</g>
<g stroke="#000" stroke-width="1.111" fill="none">
<line x1="138.5" y1="395.5" x2="138.5" y2="400.5"/>
<line x1="229.5" y1="395.5" x2="229.5" y2="400.5"/>
<line x1="312.5" y1="395.5" x2="312.5" y2="400.5"/>
<line x1="403.5" y1="395.5" x2="403.5" y2="400.5"/>
<line x1="492.5" y1="395.5" x2="492.5" y2="400.5"/>
<line x1="583.5" y1="395.5" x2="583.5" y2="400.5"/>
<line x1="672.5" y1="395.5" x2="672.5" y2="400.5"/>
<line x1="763.5" y1="395.5" x2="763.5" y2="400.5"/>
<line x1="855.5" y1="395.5" x2="855.5" y2="400.5"/>
<line x1="943.5" y1="395.5" x2="943.5" y2="400.5"/>
<line x1="1035.5" y1="395.5" x2="1035.5" y2="400.5"/>
<line x1="132.5" y1="330.5" x2="127.5" y2="330.5"/>
<line x1="132.5" y1="254.5" x2="127.5" y2="254.5"/>
<line x1="132.5" y1="178.5" x2="127.5" y2="178.5"/>
<line x1="132.5" y1="103.5" x2="127.5" y2="103.5"/>
<line x1="132.5" y1="27.5" x2="127.5" y2="27.5"/>
<rect x="132.5" y="10.5" width="930.0" height="385.0"/>
</g>
<g font-family="'DejaVu Sans', 'Liberation Sans', sans-serif" font-size="13.889" fill="#000">
<text x="137.69" y="415.50" text-anchor="middle" textLength="57.48">2025-01</text>
<text x="228.69" y="415.50" text-anchor="middle" textLength="57.23">2025-02</text>
<text x="311.69" y="415.50" text-anchor="middle" textLength="57.48">2025-03</text>
<text x="403.69" y="415.50" text-anchor="middle" textLength="57.23">2025-04</text>
<text x="491.69" y="415.50" text-anchor="middle" textLength="57.23">2025-05</text>
<text x="583.69" y="415.50" text-anchor="middle" textLength="57.23">2025-06</text>
<text x="671.69" y="415.50" text-anchor="middle" textLength="57.23">2025-07</text>
<text x="763.69" y="415.50" text-anchor="middle" textLength="57.48">2025-08</text>
<text x="854.69" y="415.50" text-anchor="middle" textLength="57.48">2025-09</text>
<text x="943.75" y="415.50" text-anchor="middle" textLength="57.48">2025-10</text>
<text x="1034.75" y="415.50" text-anchor="middle" textLength="57.73">2025-11</text>
<text x="122.55" y="335.30" text-anchor="end" textLength="53.66">R$ 0,00</text>
<text x="122.05" y="259.80" text-anchor="end" textLength="83.80">R$ 5.000,00</text>
<text x="123.05" y="183.80" text-anchor="end" textLength="93.12">R$ 10.000,00</text>
<text x="123.05" y="108.80" text-anchor="end" textLength="93.12">R$ 15.000,00</text>
<text x="123.17" y="32.80" text-anchor="end" textLength="93.25">R$ 20.000,00</text>
<text x="597.50" y="434.50" text-anchor="middle" textLength="116.91">Data de emissão</text>
<text transform="translate(20.20 203.88) rotate(-90)" text-anchor="middle" textLength="74.12">Gasto (R$)</text>
<rect x="653.5" y="17.5" width="402" height="25" rx="2.78" fill="#fff" fill-opacity="0.8" stroke="#ccc" stroke-opacity="0.8" stroke-width="1.389"/>
<g fill="#0000ff"><rect x="670" y="29" width="5" height="3" fill-opacity=".306"/><rect x="671" y="28" width="3" height="5" fill-opacity=".306"/><rect x="670" y="30" width="5" height="1" fill-opacity=".366"/><rect x="672" y="28" width="1" height="5" fill-opacity=".366"/><rect x="671" y="29" width="3" height="3"/></g>
<text x="696.92" y="33.30" textLength="352.52">3564: Defensor Stélio Dener (REPUBLICANOS / RR)</text>
</g>
<text x="1071.28" y="335.90" textLength="495.48" font-family="'DejaVu Sans', 'Liberation Sans', sans-serif" font-size="19.444" fill="#0000ff">3564: Defensor Stélio Dener (REPUBLICANOS / RR)</text>
</svg>
</body></html>
